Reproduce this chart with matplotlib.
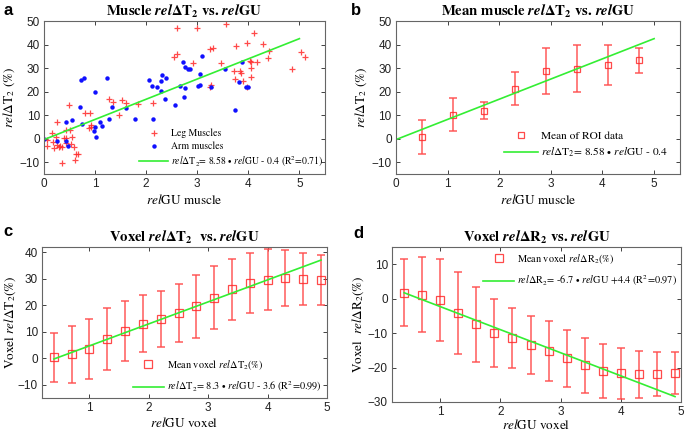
import numpy as np
import matplotlib
matplotlib.use("Agg")
from matplotlib import pyplot as plt

# ---- panel a: individual muscles ----
leg_x = [2.61, 3.00, 3.57, 4.11, 3.76, 3.97, 4.29, 3.24, 3.30, 4.40, 3.47, 2.91, 2.60, 2.55,
         4.04, 4.06, 4.16, 4.39, 4.06, 3.71, 3.84, 3.85, 3.89, 4.06, 3.73, 4.86, 5.04, 5.10,
         3.24, 3.26, 3.98, 1.28, 1.36, 1.52, 1.60, 1.47, 0.81, 0.90, 2.13, 1.85, 0.49, 0.16,
         0.23, 0.43, 0.50, 0.25, 0.92, 0.92, 0.89, 0.06, 0.05, 0.18, 0.25, 0.19, 0.32, 0.36,
         0.39, 0.44, 0.30, 0.53, 0.58, 0.63, 0.67, 0.61, 0.36, 0.54, 0.43]
leg_y = [46.9, 47.2, 48.9, 44.9, 39.3, 40.7, 40.1, 38.1, 38.4, 37.3, 32.2, 32.2, 35.9, 34.5,
         33.1, 32.5, 32.5, 34.2, 29.9, 28.8, 28.8, 27.7, 24.6, 26.0, 25.2, 29.7, 37.0, 34.5,
         21.8, 22.6, 21.8, 17.0, 15.5, 16.4, 15.0, 9.9, 11.0, 11.0, 15.3, 14.7, 14.2, 2.4,
         0.7, 3.8, 3.8, 7.1, 6.0, 5.1, 4.5, -0.4, -2.9, -1.5, -2.5, -3.8, -2.9, -3.4,
         0.1, 0.1, -3.5, -2.2, -3.6, -6.7, -6.3, -9.2, -10.4, 0.7, -1.8]
arm_x = [0.00, 0.25, 0.43, 0.48, 0.44, 0.55, 0.70, 0.72, 0.79, 0.74, 1.00, 0.98, 1.00, 1.01,
         1.09, 1.14, 1.23, 1.27, 1.34, 1.61, 1.79, 2.14, 2.05, 2.11, 2.22, 2.29, 2.31, 2.29,
         2.38, 2.36, 2.56, 2.72, 2.77, 2.82, 2.86, 3.09, 3.05, 3.02, 3.06, 2.67, 2.76, 2.75,
         3.27, 3.54, 3.88, 3.81, 3.96, 4.00, 3.73]
arm_y = [0.0, -1.1, -1.0, -3.0, 7.1, 7.8, 13.4, 24.9, 25.6, 6.1, 19.8, 3.4, 5.0, 0.9,
         6.9, 5.5, 25.6, 8.5, 13.3, 12.9, 8.2, 8.2, 25.1, 22.3, 21.9, 24.6, 27.0, 20.2,
         25.7, 17.0, 14.1, 32.5, 30.4, 29.7, 29.7, 35.3, 27.6, 22.2, 23.0, 22.2, 21.5, 17.5,
         21.8, 29.4, 32.5, 24.0, 21.9, 21.8, 12.3]
fit_a = (8.58, -0.4)

# ---- panel b: ROI means ----
roi_x = [0.5, 1.1, 1.7, 2.3, 2.9, 3.5, 4.1, 4.7]
roi_mean = [0.8, 10.2, 11.9, 21.2, 28.7, 29.8, 31.3, 33.3]
roi_err = [7.3, 7.1, 3.7, 7.0, 9.8, 10.1, 8.4, 5.3]

# ---- panel c/d: voxel means ----
vox_x = [0.4, 0.7, 1.0, 1.3, 1.6, 1.9, 2.2, 2.5, 2.8, 3.1, 3.4, 3.7, 4.0, 4.3, 4.6, 4.9]
t2_mean = [0.3, 1.5, 3.5, 7.3, 10.3, 13.0, 14.8, 17.1, 19.6, 22.9, 26.0, 28.4, 29.6, 30.3, 30.0, 29.6]
t2_err = [9.4, 10.8, 11.3, 11.7, 11.3, 10.8, 10.7, 10.8, 11.8, 12.0, 11.6, 11.2, 11.5, 10.5, 9.9, 9.4]
r2_mean = [1.7, 1.2, -0.4, -4.2, -7.4, -10.0, -11.4, -13.4, -15.2, -17.3, -19.4, -21.0, -21.6, -22.0, -21.9, -21.6]
r2_err = [9.7, 11.0, 11.9, 11.8, 10.9, 9.8, 8.8, 8.5, 8.7, 8.3, 8.1, 7.8, 7.4, 6.8, 6.3, 6.0]
fit_c = (8.3, -3.6)
fit_d = (-6.7, 4.4)

RED = '#ff2a2a'
BLUE = '#1010ff'
GREEN = '#33ee33'
EB = '#ff4d4d'

plt.rcParams['mathtext.fontset'] = 'stix'
SERIF = 'STIXGeneral'
SANS = 'Liberation Sans'
LAB = 9.5


def style(ax):
    ax.tick_params(direction='in', top=True, right=True, length=3, width=0.6,
                   labelsize=8.5, colors='#222222', pad=3)
    for lab in ax.get_xticklabels() + ax.get_yticklabels():
        lab.set_fontfamily(SANS)
    for s in ax.spines.values():
        s.set_color('#666666')
        s.set_linewidth(0.8)


def title(ax, txt):
    ax.set_title(txt, fontfamily=SERIF, fontweight='bold', fontsize=10.6, pad=4)


def means(ax, x, m, e, ms, label):
    ax.errorbar(x, m, yerr=e, fmt='none', ecolor=EB, capsize=3, elinewidth=1.2,
                capthick=1.2, alpha=0.85)
    return ax.plot(x, m, 's', ms=ms, mfc='none', mec=RED, mew=0.9, alpha=0.85,
                   label=label)[0]


fig = plt.figure(figsize=(6.85, 4.33), dpi=100)
ax_a = fig.add_axes([0.0642, 0.5982, 0.4102, 0.3533])
ax_b = fig.add_axes([0.578, 0.5982, 0.4146, 0.3533])
ax_c = fig.add_axes([0.0613, 0.0808, 0.416, 0.3487])
ax_d = fig.add_axes([0.5723, 0.0716, 0.4219, 0.358])

# a
h1 = ax_a.plot(leg_x, leg_y, '+', color=RED, ms=5, mew=0.9, alpha=0.85, label='Leg Muscles')[0]
h2 = ax_a.plot(arm_x, arm_y, 'o', color=BLUE, ms=3.2, mew=0, label='Arm muscles')[0]
xf = np.array([0, 5])
h3 = ax_a.plot(xf, fit_a[0] * xf + fit_a[1], color=GREEN, lw=1.2,
               label=r'$rel\Delta$T$_2$= 8.58 $\bullet$ $rel$GU - 0.4 (R$^2$=0.71)')[0]
ax_a.set_xlim(0, 5.5)
ax_a.set_ylim(-15, 50)
ax_a.set_xticks(range(6))
ax_a.set_yticks(range(-10, 51, 10))
ax_a.set_xlabel(r'$rel$GU muscle', fontfamily=SERIF, fontsize=LAB, labelpad=2)
ax_a.set_ylabel(r'$rel\Delta$T$_2$ (%)', fontfamily=SERIF, fontsize=LAB, labelpad=2)
title(ax_a, r'Muscle $\mathbfit{rel}\mathbf{\Delta}$T$_\mathbf{2}$ vs. $\mathbfit{rel}$GU')
ax_a.legend(handles=[h1, h2, h3], loc='lower right', bbox_to_anchor=(1.015, 0.0),
            frameon=False, prop={'family': SERIF, 'size': 7},
            handlelength=3.0, borderaxespad=0.15, labelspacing=0.3, handletextpad=0.3)
style(ax_a)

# b
h1 = means(ax_b, roi_x, roi_mean, roi_err, 4, 'Mean of ROI data')
h2 = ax_b.plot(xf, fit_a[0] * xf + fit_a[1], color=GREEN, lw=1.2,
               label=r'$rel\Delta$T$_2$= 8.58 $\bullet$ $rel$GU - 0.4')[0]
ax_b.set_xlim(0, 5.5)
ax_b.set_ylim(-15, 50)
ax_b.set_xticks(range(6))
ax_b.set_yticks(range(-10, 51, 10))
ax_b.set_xlabel(r'$rel$GU muscle', fontfamily=SERIF, fontsize=LAB, labelpad=2)
ax_b.set_ylabel(r'$rel\Delta$T$_2$ (%)', fontfamily=SERIF, fontsize=LAB, labelpad=2)
title(ax_b, r'Mean muscle $\mathbfit{rel}\mathbf{\Delta}$T$_\mathbf{2}$ vs. $\mathbfit{rel}$GU')
ax_b.legend(handles=[h1, h2], loc='lower right', bbox_to_anchor=(0.995, 0.03), frameon=False,
            prop={'family': SERIF, 'size': 8.2}, handlelength=3, labelspacing=0.45,
            handletextpad=0.3)
style(ax_b)

# c
xv = np.array([vox_x[0], vox_x[-1]])
h1 = means(ax_c, vox_x, t2_mean, t2_err, 6, r'Mean voxel $rel\Delta$T$_2$(%)')
h2 = ax_c.plot(xv, fit_c[0] * xv + fit_c[1], color=GREEN, lw=1.2,
               label=r'$rel\Delta$T$_2$= 8.3 $\bullet$ $rel$GU - 3.6 (R$^2$=0.99)')[0]
ax_c.set_xlim(0.2, 5)
ax_c.set_ylim(-15, 42)
ax_c.set_xticks(range(1, 6))
ax_c.set_yticks(range(-10, 41, 10))
ax_c.set_xlabel(r'$rel$GU voxel', fontfamily=SERIF, fontsize=LAB, labelpad=1)
ax_c.set_ylabel(r'Voxel $rel\Delta$T$_2$(%)', fontfamily=SERIF, fontsize=LAB, labelpad=0)
title(ax_c, r'Voxel $\mathbfit{rel}\mathbf{\Delta}$T$_\mathbf{2}$  vs. $\mathbfit{rel}$GU')
ax_c.legend(handles=[h1, h2], loc='lower right', bbox_to_anchor=(1.0, -0.01), frameon=False,
            prop={'family': SERIF, 'size': 7.4}, handlelength=3, borderaxespad=0.1,
            labelspacing=0.75, handletextpad=0.3)
style(ax_c)

# d
h1 = means(ax_d, vox_x, r2_mean, r2_err, 6, r'Mean voxel $rel\Delta$R$_2$(%)')
h2 = ax_d.plot(xv, fit_d[0] * xv + fit_d[1], color=GREEN, lw=1.2,
               label=r'$rel\Delta$R$_2$= -6.7 $\bullet$ $rel$GU +4.4 (R$^2$=0.97)')[0]
ax_d.set_xlim(0.2, 5)
ax_d.set_ylim(-30, 15)
ax_d.set_xticks(range(1, 6))
ax_d.set_yticks(range(-30, 11, 10))
ax_d.set_xlabel(r'$rel$GU voxel', fontfamily=SERIF, fontsize=LAB, labelpad=0)
ax_d.set_ylabel(r'Voxel  $rel\Delta$R$_2$(%)', fontfamily=SERIF, fontsize=LAB, labelpad=1)
title(ax_d, r'Voxel $\mathbfit{rel}\mathbf{\Delta}$R$_\mathbf{2}$ vs. $\mathbfit{rel}$GU')
ax_d.legend(handles=[h1, h2], loc='upper right', bbox_to_anchor=(1.005, 1.0), frameon=False,
            prop={'family': SERIF, 'size': 7.4}, handlelength=3, borderaxespad=0.1,
            labelspacing=0.75, handletextpad=0.3)
style(ax_d)

# panel letters
for lbl, x, y in [('a', 0.005, 0.965), ('b', 0.513, 0.965), ('c', 0.005, 0.455), ('d', 0.516, 0.45)]:
    fig.text(x, y, lbl, fontfamily=SANS, fontweight='bold', fontsize=12)

fig.savefig('out.png', dpi=100)
